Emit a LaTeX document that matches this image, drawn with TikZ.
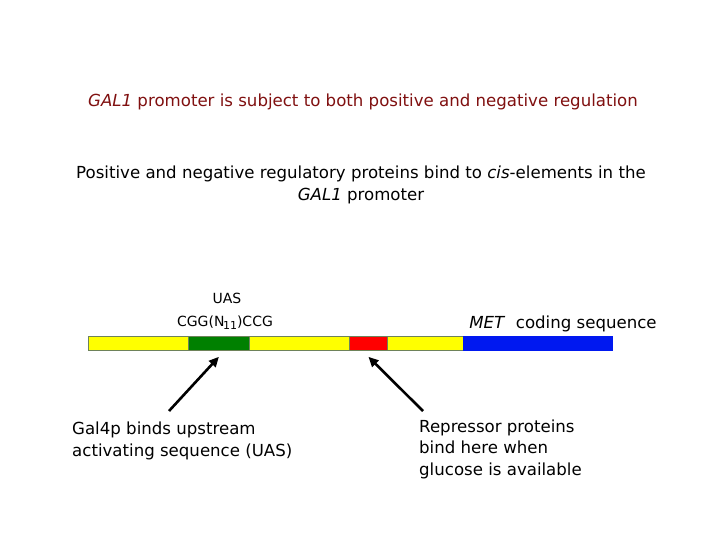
\documentclass[tikz,border=0pt]{standalone}
\usepackage{fontspec}
\setmainfont{DejaVu Sans}
\usetikzlibrary{arrows.meta}
\definecolor{titlered}{RGB}{128,16,16}
\definecolor{segborder}{RGB}{110,130,90}
\definecolor{segyellow}{RGB}{255,255,0}
\definecolor{seggreen}{RGB}{0,128,0}
\definecolor{segred}{RGB}{255,0,0}
\definecolor{segblue}{RGB}{0,24,240}
\tikzset{
  seg/.style={draw=segborder, line width=0.8pt, inner sep=0pt, anchor=north west, minimum height=14pt},
  big/.style={font=\fontsize{16.6}{20}\selectfont, anchor=base, inner sep=0pt},
  bigl/.style={big, anchor=base west},
  small/.style={font=\fontsize{14}{16}\selectfont, anchor=base, inner sep=0pt},
  arr/.style={line width=2.6pt, -{Triangle[length=10pt,width=9pt]}}
}
\begin{document}
\begin{tikzpicture}[x=1pt,y=-1pt]
\useasboundingbox[fill=white] (0,0) rectangle (720,540);
% title
\node[big, text=titlered] (title) at (363,107) {\textit{GAL1} promoter is subject to both positive and negative regulation};
\node[big] (p1) at (361,179) {Positive and negative regulatory proteins bind to \textit{cis}-elements in the};
\node[big] (p2) at (361,201) {\textit{GAL1} promoter};
% bar
\node[seg, fill=segyellow, minimum width=100pt] (y1) at (88,336) {};
\node[seg, fill=seggreen, minimum width=61pt] (green) at (188,336) {};
\node[seg, fill=segyellow, minimum width=100pt] (y2) at (249,336) {};
\node[seg, fill=segred, minimum width=38pt] (red) at (349,336) {};
\node[seg, fill=segyellow, minimum width=76pt] (y3) at (387,336) {};
\node[seg, fill=segblue, draw=segblue, minimum width=149pt] (blue) at (463,336) {};
% UAS labels
\node[small] (uas) at (227,303) {UAS};
\node[small] (cgg) at (225,326) {CGG(N\kern-1.5pt\raisebox{-3pt}{\fontsize{11}{12}\selectfont 11})CCG};
\node[big] (met) at (563,328) {\textit{MET}\ \ coding sequence};
% bottom labels
\node[bigl] (g1) at (72,434) {Gal4p binds upstream};
\node[bigl] (g2) at (72,456) {activating sequence (UAS)};
\node[bigl] (r1) at (419,432) {Repressor proteins};
\node[bigl] (r2) at (419,453) {bind here when};
\node[bigl] (r3) at (419,475) {glucose is available};
% arrows
\coordinate (t1) at (169,411);
\coordinate (t2) at (423,411);
\draw[arr] (t1) -- ([yshift=-6pt]green.south);
\draw[arr] (t2) -- ([yshift=-6pt]red.south);
\end{tikzpicture}
\end{document}
